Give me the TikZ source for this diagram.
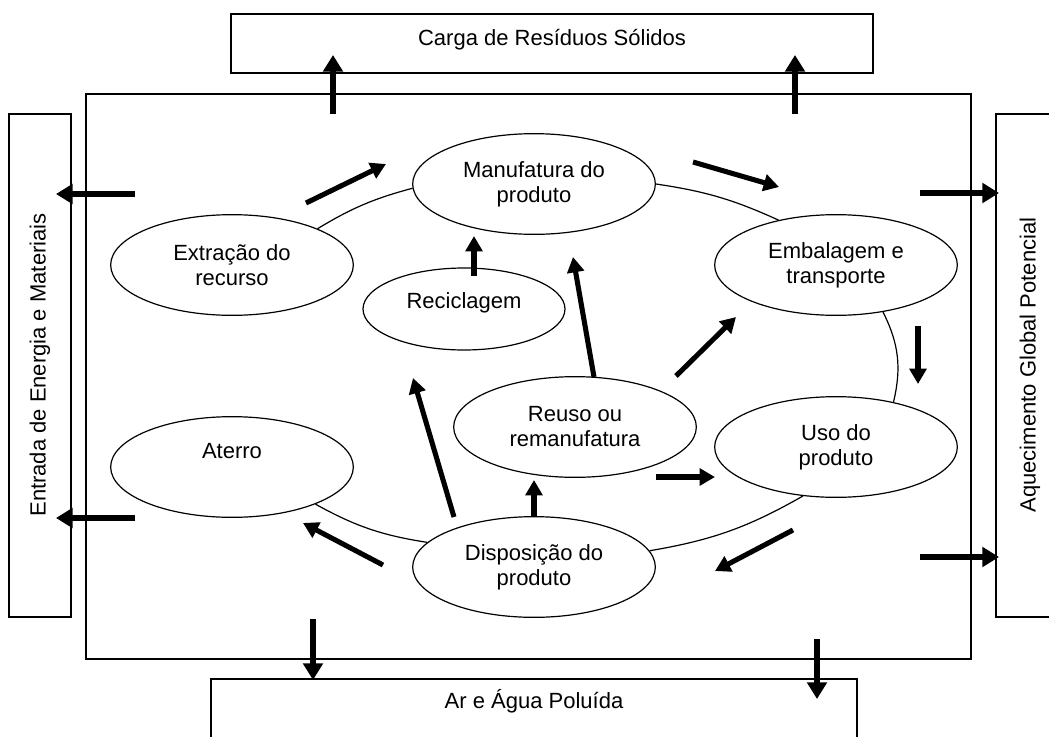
\documentclass[tikz,border=0pt]{standalone}
\usepackage{fontspec}
\setmainfont{Liberation Sans}
\usetikzlibrary{arrows.meta,shapes.geometric}
\begin{document}
\begin{tikzpicture}[x=0.75pt,y=0.75pt,
  every node/.style={font=\fontsize{16.5}{18.75}\selectfont},
  stage/.style={draw, ellipse, line width=0.9pt, inner sep=0pt, align=center,
    minimum width=182pt, minimum height=75.5pt},
  frame/.style={draw, line width=1pt},
  link/.style={line width=0.9pt},
  flow/.style={line width=3.8pt, -{Triangle[length=11.5pt,width=12.5pt]}},
  outflow/.style={line width=4.4pt, -{Triangle[length=12.5pt,width=14.5pt]}}
]
\useasboundingbox (0,0) rectangle (1049,-736);

% outer frames
\draw[frame] (231,-14) rectangle (873,-73);
\draw[frame] (86,-94) rectangle (971,-659);
\draw[frame] (9,-114) rectangle (71,-617);
\draw[frame] (1060,-114) -- (996,-114) -- (996,-617) -- (1060,-617);
\draw[frame] (211,-750) -- (211,-679) -- (857,-679) -- (857,-750);

% frame labels
\node (carga) at (552,-39.5) {Carga de Resíduos Sólidos};
\node (ar) at (534,-701) {Ar e Água Poluída};
\node[rotate=90] (entrada) at (40,-365) {Entrada de Energia e Materiais};
\node[rotate=90] (aquec) at (1030,-365) {Aquecimento Global Potencial};

% life-cycle stages
\node[stage] (man) at (534,-184) {Manufatura do\\produto};
\node[stage] (ext) at (232,-265) {Extração do\\recurso};
\node[stage, minimum width=151.5pt, minimum height=61.5pt,
  text height=12pt, text depth=12.2pt] (rec) at (464,-309) {Reciclagem};
\node[stage, text height=12pt, text depth=24.2pt] (ate) at (232,-467) {Aterro};
\node[stage] (reu) at (575,-427) {Reuso ou\\remanufatura};
\node[stage] (emb) at (836,-265) {Embalagem e\\transporte};
\node[stage] (uso) at (836,-447) {Uso do\\produto};
\node[stage] (dis) at (534,-567) {Disposição do\\produto};

% cycle links
\draw[link] (ext.23.5) to[bend left=8] (man.182);
\draw[link] (man.0) to[bend left=8] (emb.142.7);
\draw[link] (emb.315) to[bend left=20] (uso.38.8);
\draw[link] (uso.236.6) to[bend left=10] (dis.8.5);
\draw[link] (dis.167.4) to[bend left=10] (ate.336);

% flows out of the system
\coordinate (u1s) at (333,-114); \coordinate (u1e) at (333,-55);
\coordinate (u2s) at (795,-114); \coordinate (u2e) at (795,-55);
\coordinate (l1s) at (135,-194); \coordinate (l1e) at (56,-194);
\coordinate (l2s) at (135,-518); \coordinate (l2e) at (56,-518);
\coordinate (r1s) at (920,-193); \coordinate (r1e) at (999,-193);
\coordinate (r2s) at (920,-557); \coordinate (r2e) at (999,-557);
\coordinate (d1s) at (313,-619); \coordinate (d1e) at (313,-680);
\coordinate (d2s) at (817,-639); \coordinate (d2e) at (817,-699);
\foreach \a in {u1,u2,l1,l2,r1,r2,d1,d2}
  \draw[outflow] (\a s) -- (\a e);

% flows between stages
\coordinate (f1s) at (306,-203); \coordinate (f1e) at (386,-164);
\coordinate (f2s) at (693,-162); \coordinate (f2e) at (779,-187);
\coordinate (f3s) at (918,-326); \coordinate (f3e) at (918,-384);
\coordinate (f4s) at (793,-530); \coordinate (f4e) at (715,-571);
\coordinate (f5s) at (383,-565); \coordinate (f5e) at (303,-523);
\coordinate (f6s) at (454,-517); \coordinate (f6e) at (413,-378);
\coordinate (f7s) at (534,-517); \coordinate (f7e) at (534,-480);
\coordinate (f8s) at (594,-377); \coordinate (f8e) at (573,-257);
\coordinate (f9s) at (676,-376); \coordinate (f9e) at (736,-317);
\coordinate (f10s) at (656,-477); \coordinate (f10e) at (715,-477);
\coordinate (f11s) at (474,-276); \coordinate (f11e) at (474,-236);
\foreach \a in {f1,f2,f3,f4,f5,f6,f7,f8,f9,f10,f11}
  \draw[flow] (\a s) -- (\a e);
\end{tikzpicture}
\end{document}
